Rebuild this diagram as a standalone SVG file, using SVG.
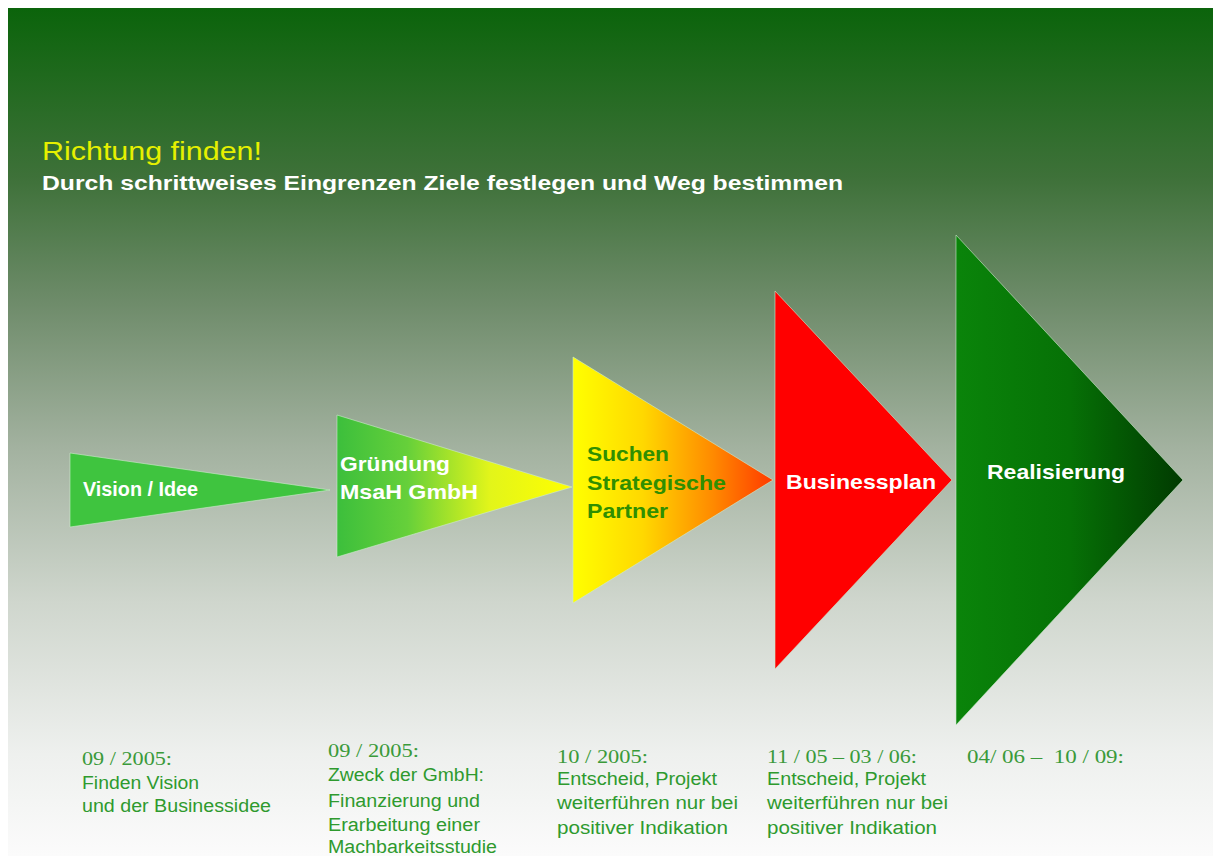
<svg xmlns="http://www.w3.org/2000/svg" width="1213" height="856" viewBox="0 0 1213 856">
  <defs>
    <linearGradient id="bg" x1="0" y1="8" x2="0" y2="856" gradientUnits="userSpaceOnUse">
      <stop offset="0" stop-color="#0b640b"/>
      <stop offset="0.2" stop-color="#3e7139"/>
      <stop offset="0.35" stop-color="#6f8c6b"/>
      <stop offset="0.52" stop-color="#a3b2a0"/>
      <stop offset="0.7" stop-color="#cfd6cd"/>
      <stop offset="0.88" stop-color="#eef0ee"/>
      <stop offset="1" stop-color="#fbfbfb"/>
    </linearGradient>
    <linearGradient id="gYel" x1="337" y1="0" x2="572" y2="0" gradientUnits="userSpaceOnUse">
      <stop offset="0" stop-color="#3cbf3c"/>
      <stop offset="0.3" stop-color="#66d03a"/>
      <stop offset="0.65" stop-color="#e2f51a"/>
      <stop offset="1" stop-color="#ffff00"/>
    </linearGradient>
    <linearGradient id="yOrg" x1="573" y1="0" x2="773" y2="0" gradientUnits="userSpaceOnUse">
      <stop offset="0" stop-color="#ffff00"/>
      <stop offset="0.35" stop-color="#ffd800"/>
      <stop offset="0.7" stop-color="#ff8a00"/>
      <stop offset="1" stop-color="#ff3a00"/>
    </linearGradient>
    <linearGradient id="gDark" x1="956" y1="0" x2="1183" y2="0" gradientUnits="userSpaceOnUse">
      <stop offset="0" stop-color="#0a840a"/>
      <stop offset="0.5" stop-color="#067106"/>
      <stop offset="1" stop-color="#013a01"/>
    </linearGradient>
  </defs>
  <style>
    .tri { stroke: #cdeccd; stroke-opacity: 0.6; stroke-width: 1; }
    .lbl { font-family: "Liberation Sans", Arial, sans-serif; font-weight: bold; font-size: 21px; }
    .w { fill: #ffffff; }
    .g { fill: #2f8f00; }
    .note { font-family: "Liberation Sans", Arial, sans-serif; font-size: 18px; fill: #2e9a2e; }
    .date { font-family: "Liberation Serif", "Times New Roman", serif; font-size: 19px; fill: #3a9a3a; }
  </style>

  <rect x="0" y="0" width="1213" height="856" fill="#ffffff"/>
  <rect x="8" y="8" width="1205" height="848" fill="url(#bg)"/>

  <!-- heading -->
  <text x="42" y="160" font-family="'Liberation Sans', Arial, sans-serif" font-size="25" fill="#e6f000" textLength="220" lengthAdjust="spacingAndGlyphs">Richtung finden!</text>
  <text x="42" y="190" font-family="'Liberation Sans', Arial, sans-serif" font-size="20" font-weight="bold" fill="#ffffff" textLength="801" lengthAdjust="spacingAndGlyphs">Durch schrittweises Eingrenzen Ziele festlegen und Weg bestimmen</text>

  <!-- phases -->
  <g id="vision">
    <polygon class="tri" points="70,453 70,527 330,490" fill="#3fc43f"/>
    <text class="lbl w" x="83" y="496" font-size="15" textLength="115" lengthAdjust="spacingAndGlyphs">Vision / Idee</text>
  </g>
  <g id="gruendung">
    <polygon class="tri" points="337,415 337,557 572,487" fill="url(#gYel)"/>
    <text class="lbl w" x="340" y="471" textLength="110" lengthAdjust="spacingAndGlyphs">Gründung</text>
    <text class="lbl w" x="340" y="499" textLength="138" lengthAdjust="spacingAndGlyphs">MsaH GmbH</text>
  </g>
  <g id="partner">
    <polygon class="tri" points="573,357 573,603 773,480" fill="url(#yOrg)"/>
    <text class="lbl g" x="587" y="461" textLength="82" lengthAdjust="spacingAndGlyphs">Suchen</text>
    <text class="lbl g" x="587" y="490" textLength="139" lengthAdjust="spacingAndGlyphs">Strategische</text>
    <text class="lbl g" x="587" y="518" textLength="81" lengthAdjust="spacingAndGlyphs">Partner</text>
  </g>
  <g id="businessplan">
    <polygon class="tri" points="775,291 775,669 952,480" fill="#ff0000"/>
    <text class="lbl w" x="786" y="489" textLength="150" lengthAdjust="spacingAndGlyphs">Businessplan</text>
  </g>
  <g id="realisierung">
    <polygon class="tri" points="956,235 956,725 1183,480" fill="url(#gDark)"/>
    <text class="lbl w" x="987" y="479" textLength="138" lengthAdjust="spacingAndGlyphs">Realisierung</text>
  </g>

  <!-- timeline notes -->
  <g id="note-vision">
    <text class="date" x="82" y="765" textLength="90" lengthAdjust="spacingAndGlyphs">09 / 2005:</text>
    <text class="note" x="82" y="789" textLength="117" lengthAdjust="spacingAndGlyphs">Finden Vision</text>
    <text class="note" x="82" y="812" textLength="189" lengthAdjust="spacingAndGlyphs">und der Businessidee</text>
  </g>
  <g id="note-gruendung">
    <text class="date" x="328" y="757" textLength="91" lengthAdjust="spacingAndGlyphs">09 / 2005:</text>
    <text class="note" x="328" y="781" textLength="156" lengthAdjust="spacingAndGlyphs">Zweck der GmbH:</text>
    <text class="note" x="328" y="807" textLength="152" lengthAdjust="spacingAndGlyphs">Finanzierung und</text>
    <text class="note" x="328" y="831" textLength="152" lengthAdjust="spacingAndGlyphs">Erarbeitung einer</text>
    <text class="note" x="328" y="853" textLength="169" lengthAdjust="spacingAndGlyphs">Machbarkeitsstudie</text>
  </g>
  <g id="note-partner">
    <text class="date" x="557" y="763" textLength="91" lengthAdjust="spacingAndGlyphs">10 / 2005:</text>
    <text class="note" x="557" y="785" textLength="160" lengthAdjust="spacingAndGlyphs">Entscheid, Projekt</text>
    <text class="note" x="557" y="809" textLength="181" lengthAdjust="spacingAndGlyphs">weiterführen nur bei</text>
    <text class="note" x="557" y="834" textLength="171" lengthAdjust="spacingAndGlyphs">positiver Indikation</text>
  </g>
  <g id="note-businessplan">
    <text class="date" x="767" y="763" textLength="150" lengthAdjust="spacingAndGlyphs">11 / 05 – 03 / 06:</text>
    <text class="note" x="767" y="785" textLength="159" lengthAdjust="spacingAndGlyphs">Entscheid, Projekt</text>
    <text class="note" x="767" y="809" textLength="181" lengthAdjust="spacingAndGlyphs">weiterführen nur bei</text>
    <text class="note" x="767" y="834" textLength="170" lengthAdjust="spacingAndGlyphs">positiver Indikation</text>
  </g>
  <g id="note-realisierung">
    <text class="date" x="967" y="763" xml:space="preserve" textLength="157" lengthAdjust="spacingAndGlyphs">04/ 06 –  10 / 09:</text>
  </g>
</svg>
